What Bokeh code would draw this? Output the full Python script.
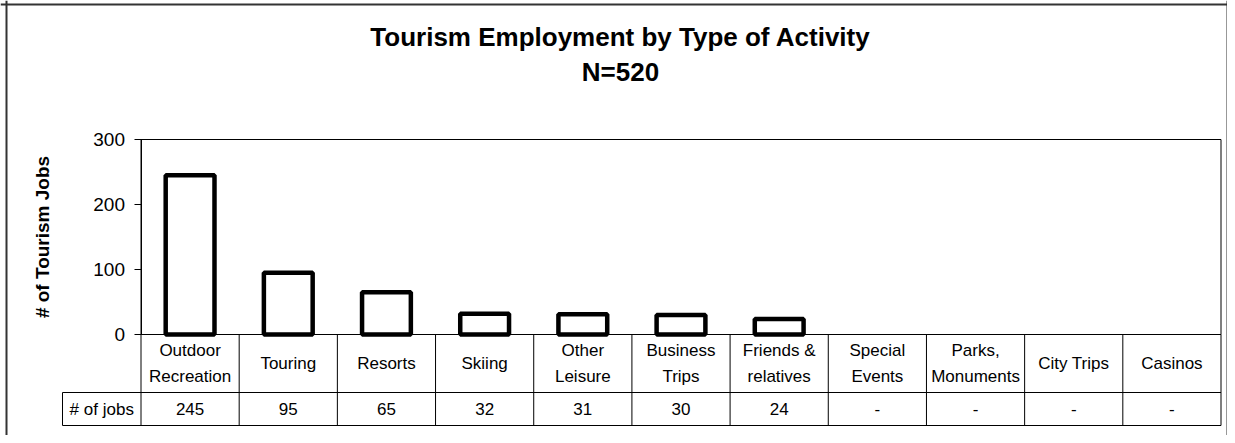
import math
from bokeh.plotting import figure
from bokeh.models import FixedTicker, Label, Span, Range1d
from bokeh.embed import file_html
from bokeh.resources import INLINE
from bokeh.core.properties import value

# ---------------- data ----------------
categories = ["Outdoor\nRecreation", "Touring", "Resorts", "Skiing", "Other\nLeisure",
              "Business\nTrips", "Friends &\nrelatives", "Special\nEvents",
              "Parks,\nMonuments", "City Trips", "Casinos"]
jobs = [245, 95, 65, 32, 31, 30, 24, None, None, None, None]
y_ticks = [0, 100, 200, 300]
row_header = "# of jobs"
title_lines = ["Tourism Employment by Type of Activity", "N=520"]
y_label = "# of Tourism Jobs"

# ---------------- layout (pixels) ----------------
FONT = "Liberation Sans"
W, H = 1227, 435
px_x0, px_x1 = 140.5, 1220.5      # plot area left / right
px_y0, px_ytop = 334.0, 139.0     # value 0 / top tick
n = len(categories)
y_max = max(y_ticks)
sx = (px_x1 - px_x0) / n
sy = (px_y0 - px_ytop) / y_max
x_start = -px_x0 / sx
x_end = n + (W - px_x1) / sx
y_end = y_max + px_ytop / sy
y_start = -(H - px_y0) / sy


def dx(px):
    return (px - px_x0) / sx


def dy(py):
    return (px_y0 - py) / sy


row1_bottom = dy(392)
row2_bottom = dy(425)
hdr_left = dx(62)
row1_mid = row1_bottom / 2
row2_mid = (row1_bottom + row2_bottom) / 2

p = figure(width=W, height=H, x_range=Range1d(x_start, x_end), y_range=Range1d(y_start, y_end),
           output_backend="svg", toolbar_location=None, x_axis_location=None,
           y_axis_location="left", min_border=0)
p.min_border_left = p.min_border_right = p.min_border_top = p.min_border_bottom = 0
if p.title is not None:
    p.title.visible = False
p.outline_line_color = None
p.grid.visible = False
p.background_fill_color = "white"
p.border_fill_color = "white"

ax = p.yaxis[0]
ax.fixed_location = 0
ax.bounds = (0, y_max)
ax.ticker = FixedTicker(ticks=y_ticks)
ax.major_tick_out = 7
ax.major_tick_in = 0
ax.minor_tick_out = 0
ax.minor_tick_in = 0
ax.axis_line_color = "black"
ax.major_tick_line_color = "black"
ax.major_label_text_font = FONT
ax.major_label_text_font_size = "19px"
ax.major_label_text_color = "black"
ax.major_label_standoff = 9

# plot area box
p.quad(left=[0], right=[n], bottom=[0], top=[y_max], fill_color=None,
       line_color="black", line_width=1)

# bars
bar_x = [i + 0.5 for i, v in enumerate(jobs) if v is not None]
bar_top = [v for v in jobs if v is not None]
p.vbar(x=bar_x, top=bar_top, bottom=0, width=0.497, fill_color="white",
       line_color="black", line_width=4.5)

# data table grid
x0s, y0s, x1s, y1s = [], [], [], []
for i in range(n + 1):
    x0s.append(i); y0s.append(0); x1s.append(i); y1s.append(row2_bottom)
for yy in (row1_bottom, row2_bottom):
    x0s.append(hdr_left); y0s.append(yy); x1s.append(n); y1s.append(yy)
x0s.append(hdr_left); y0s.append(row1_bottom); x1s.append(hdr_left); y1s.append(row2_bottom)
p.segment(x0=x0s, y0=y0s, x1=x1s, y1=y1s, line_color="black", line_width=1)

# category labels
p.text(x=[i + 0.5 for i in range(n)], y=[row1_mid] * n, text=categories,
       text_align="center", text_baseline="middle", text_font=value(FONT),
       text_font_size="17px", text_line_height=1.35, text_color="black")
# values row
p.text(x=[i + 0.5 for i in range(n)], y=[row2_mid] * n,
       text=[str(v) if v is not None else "-" for v in jobs],
       text_align="center", text_baseline="middle", text_font=value(FONT),
       text_font_size="17px", text_color="black")
p.text(x=[hdr_left / 2], y=[row2_mid], text=[row_header],
       text_align="center", text_baseline="middle", text_font=value(FONT),
       text_font_size="17px", text_color="black")

# title
for line, mid in zip(title_lines, (36.5, 71.5)):
    p.add_layout(Label(x=dx(620), y=dy(mid), text=line, text_align="center",
                       text_baseline="middle", text_font=FONT, text_font_size="26px",
                       text_font_style="bold", text_color="black"))

# y axis label
p.add_layout(Label(x=dx(41.5), y=dy(236.5), text=y_label, angle=math.pi / 2,
                   text_align="center", text_baseline="middle", text_font=FONT,
                   text_font_size="19px", text_font_style="bold", text_color="black"))

# chart area border (left at ref x=6, top at ref y=4)
for loc, dim in ((dx(6), "height"), (x_end, "height"), (dy(4), "width")):
    p.add_layout(Span(location=loc, dimension=dim, line_color="#333333", line_width=2))

open("out.html", "w").write(file_html(p, INLINE))
